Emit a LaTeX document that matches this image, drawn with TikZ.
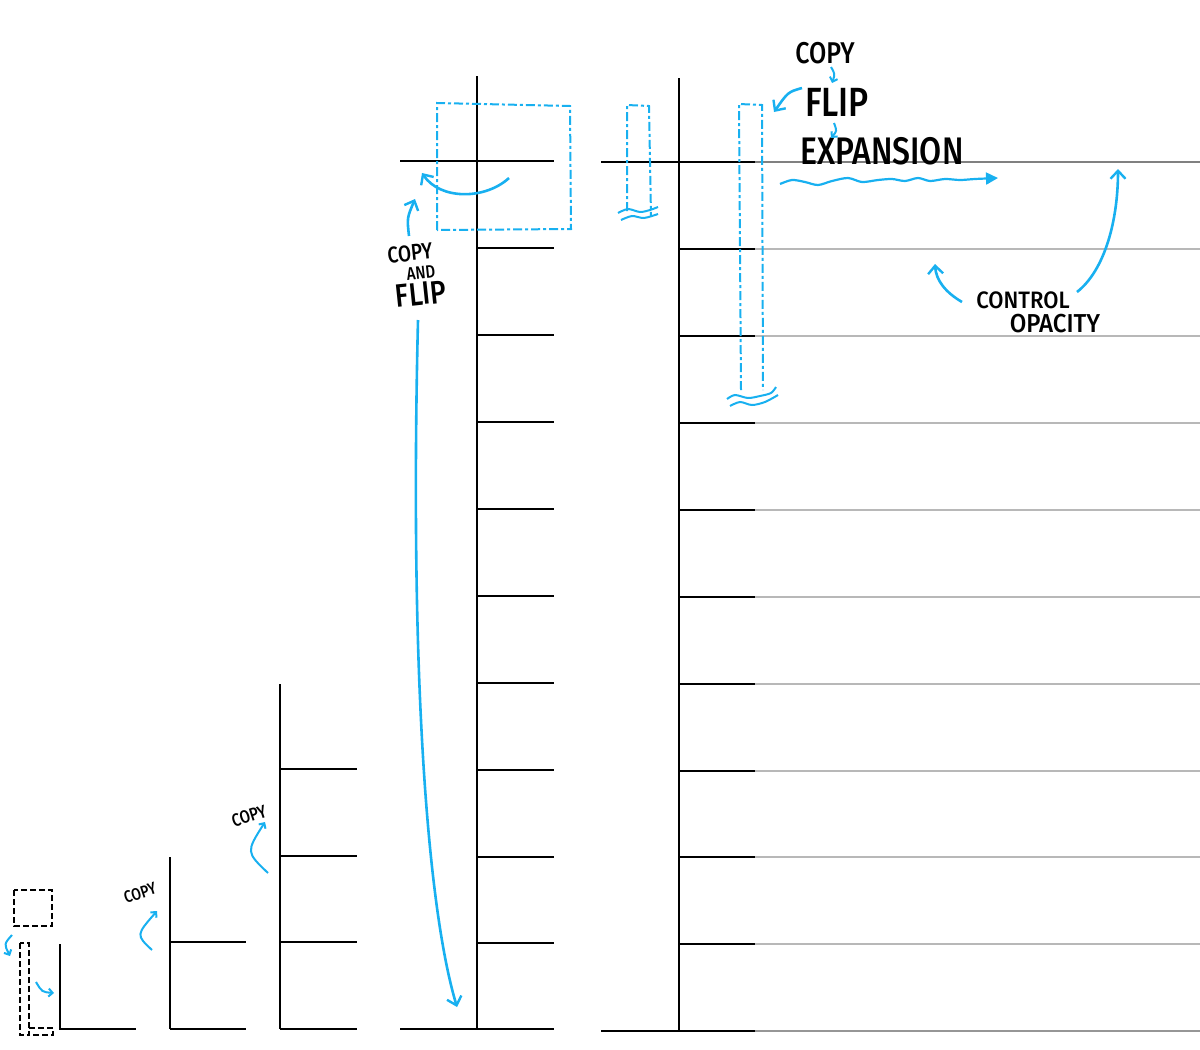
\documentclass[tikz,border=0pt]{standalone}
\usepackage{fontspec}
\setmainfont{Fira Sans Medium}
\usetikzlibrary{arrows.meta}
\definecolor{hblue}{RGB}{24,176,240}
\definecolor{gdark}{RGB}{128,128,128}
\definecolor{glight}{RGB}{184,184,184}
\definecolor{gmid}{RGB}{150,150,150}
\newcommand{\fsz}[1]{\fontsize{#1}{#1}\selectfont}
\newcommand{\tall}[1]{\scalebox{1}[1.2]{#1}}
\newcommand{\semitall}[1]{\scalebox{1}[1.08]{#1}}
\tikzset{
  bar/.style={line width=2.3pt, black},
  greyline/.style={line width=2.3pt, glight},
  bluearrow/.style={line width=2.6pt, hblue, -{Straight Barb[length=8pt,width=15pt,line width=2.4pt]}},
  smallarrow/.style={line width=2pt, hblue, -{Straight Barb[length=4pt,width=8pt,line width=2pt]}},
  bluedash/.style={line width=2pt, hblue, dash pattern=on 9pt off 3pt on 3pt off 3pt},
  blackdash/.style={line width=2.2pt, black, dash pattern=on 6pt off 3pt},
  wave/.style={line width=2pt, hblue},
  lbl/.style={inner sep=0pt, text=black},
}
\begin{document}
\begin{tikzpicture}[x=1pt,y=-1pt]
\useasboundingbox (0,0) rectangle (1200,1050);
% ---------- column 1 ----------
\draw[bar] (60,944) -- (60,1029) -- (136,1029);
% ---------- column 2 ----------
\draw[bar] (170,857) -- (170,1029);
\foreach \y in {942,1029} \draw[bar] (170,\y) -- (246,\y);
% ---------- column 3 ----------
\draw[bar] (280,684) -- (280,1029);
\foreach \y in {769,856,942,1029} \draw[bar] (280,\y) -- (357,\y);
% ---------- column 4 ----------
\draw[bar] (477,76) -- (477,1029);
\foreach \y in {248,335,422,509,596,683,770,857,943} \draw[bar] (477,\y) -- (554,\y);
\draw[bar] (400,161) -- (554,161);
\draw[bar] (400,1029) -- (554,1029);
% ---------- column 5 ----------
\foreach \y in {249,336,423,510,597,684,771,857,944} {
  \draw[greyline] (755,\y) -- (1200,\y);
  \draw[bar] (679,\y) -- (755,\y);
}
\draw[line width=2.3pt, gdark] (755,162) -- (1200,162);
\draw[line width=2.3pt, gmid] (755,1031) -- (1200,1031);
\draw[bar] (601,162) -- (755,162);
\draw[bar] (601,1031) -- (755,1031);
\draw[bar] (679,78) -- (679,1031);

% ---------- bottom-left dashed shapes ----------
\draw[blackdash] (14,890) rectangle (52,926);
\draw[blackdash] (20,943) rectangle (29,1035);
\draw[blackdash] (29,1028) -- (53,1028) -- (53,1035) -- (29,1035);
\coordinate (a1s) at (12,935); \coordinate (a1e) at (10,956);
\draw[smallarrow] (a1s) .. controls (4,944) .. (a1e);
\coordinate (a2s) at (36,982); \coordinate (a2e) at (54,993);
\draw[smallarrow] (a2s) .. controls (42,992) .. (a2e);

% ---------- small COPY labels ----------
\node[lbl, rotate=18, font=\fsz{14}] (copyA) at (140,893) {\tall{COPY}};
\coordinate (b1s) at (152,950); \coordinate (b1e) at (157,911);
\draw[smallarrow] (b1s) .. controls (136,935) .. (b1e);
\node[lbl, rotate=18, font=\fsz{15}] (copyB) at (249,816) {\tall{COPY}};
\coordinate (b2s) at (268,873); \coordinate (b2e) at (265,822);
\draw[smallarrow] (b2s) .. controls (246,852) .. (b2e);

% ---------- copy and flip box ----------
\draw[bluedash] (437,230) -- (437,103) -- (570,106) -- (571,229) -- cycle;
\coordinate (cfs) at (509,178); \coordinate (cfe) at (422,173);
\draw[bluearrow] (cfs) .. controls (485,200) and (440,200) .. (cfe);
\coordinate (cfu1) at (409,236); \coordinate (cfu2) at (415,199);
\draw[bluearrow] (cfu1) .. controls (407,218) .. (cfu2);
\node[lbl, rotate=6, font=\fsz{19}] (copyC) at (410,253) {\tall{COPY}};
\node[lbl, rotate=6, font=\fsz{15}] (andC) at (421,273) {\tall{AND}};
\node[lbl, rotate=6, font=\fsz{27}] (flipC) at (421,294) {\tall{FLIP}};
\coordinate (ls) at (418,320); \coordinate (le) at (457,1007);
\draw[bluearrow] (ls) .. controls (410,650) and (425,900) .. (le);

% ---------- narrow dashed column ----------
\draw[bluedash] (627,211) -- (627,105) -- (649,106) -- (651,216);
\draw[wave] plot[smooth] coordinates {(618,213) (628,209) (640,212) (650,210) (658,207)};
\draw[wave] plot[smooth] coordinates {(621,220) (632,216) (644,218) (658,214)};

% ---------- tall dashed column ----------
\draw[bluedash] (741,390) -- (739,104) -- (762,105) -- (763,390);
\draw[wave] plot[smooth] coordinates {(727,399) (735,395) (748,398) (760,396) (771,393) (776,387)};
\draw[wave] plot[smooth] coordinates {(730,406) (740,402) (752,405) (765,402) (778,395)};

% ---------- COPY / FLIP / EXPANSION ----------
\node[lbl, font=\fsz{25}] (copyT) at (825,53) {\tall{COPY}};
\node[lbl, font=\fsz{34}] (flipT) at (837,102) {\tall{FLIP}};
\node[lbl, font=\fsz{32}] (expT) at (882,151) {\tall{EXPANSION}};
\coordinate (t1s) at (831,67); \coordinate (t1e) at (832,83);
\draw[smallarrow] (t1s) .. controls (835,74) .. (t1e);
\coordinate (t2s) at (834,123); \coordinate (t2e) at (831,138);
\draw[smallarrow] (t2s) .. controls (837,131) .. (t2e);
\coordinate (fs) at (802,88); \coordinate (fe) at (774,112);
\draw[bluearrow] (fs) .. controls (788,92) .. (fe);
% wavy expansion arrow
\coordinate (we) at (998,178);
\draw[line width=2.2pt, hblue, -{Triangle[length=12pt,width=12pt]}]
  plot[smooth] coordinates {(780,184) (792,180) (805,182) (818,185) (832,181) (848,178) (862,182) (878,180) (892,179) (905,181) (918,178) (930,181) (945,179) (960,180) (975,179) (we)};

% ---------- CONTROL OPACITY ----------
\node[lbl, font=\fsz{22}] (ctrl) at (1023,300) {\semitall{CONTROL}};
\node[lbl, font=\fsz{24}] (opac) at (1055,324) {\semitall{OPACITY}};
\coordinate (o1s) at (962,302); \coordinate (o1e) at (935,264);
\draw[bluearrow] (o1s) .. controls (945,292) and (936,280) .. (o1e);
\coordinate (o2s) at (1077,292); \coordinate (o2e) at (1118,169);
\draw[bluearrow] (o2s) .. controls (1105,270) and (1118,220) .. (o2e);
\end{tikzpicture}
\end{document}
